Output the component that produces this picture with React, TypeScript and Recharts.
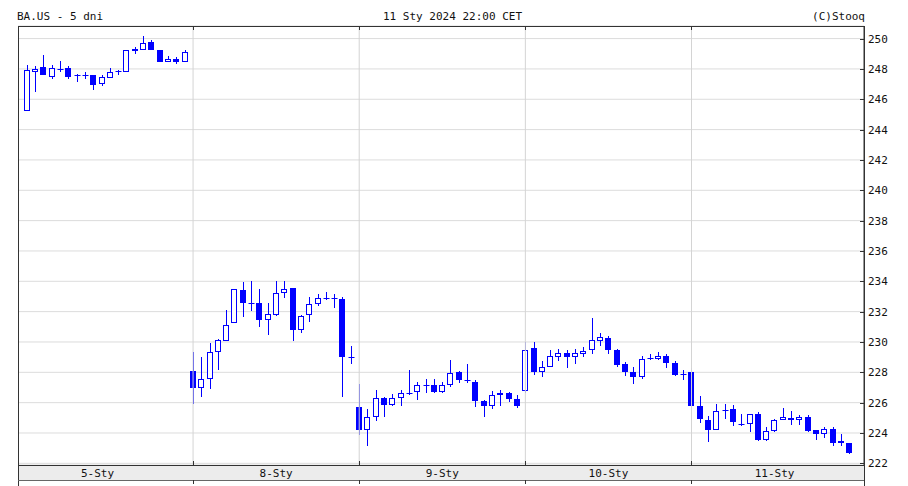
import React from "react";
import { ComposedChart, Bar, XAxis, YAxis, CartesianGrid, ReferenceLine } from "recharts";

const W = 908;
const H = 486;
const BLUE = "#0000ff";
const FONT = "'DejaVu Sans Mono', monospace";
const MARGIN = { top: 26, right: 0, left: 18, bottom: 6 };
const YAXIS_W = 44;
const XAXIS_H = 15;
const PLOT_RIGHT = W - MARGIN.right - YAXIS_W;
const PLOT_BOTTOM = H - MARGIN.bottom - XAXIS_H;
const X_DOMAIN = [-1.07, 100.76];
const Y_DOMAIN = [221.89, 250.83];

// 20-minute candles, [open, high, low, close]
const day5Sty = [
  [245.24, 248.27, 245.24, 247.9], [247.81, 248.21, 246.5, 247.99], [248.1, 248.94, 247.59, 247.63],
  [247.5, 248.27, 247.32, 248.05], [248.0, 248.54, 247.83, 247.94], [248.05, 248.21, 247.32, 247.5],
  [247.61, 247.65, 247.12, 247.58], [247.58, 247.77, 247.32, 247.61], [247.63, 247.63, 246.62, 246.95],
  [247.01, 247.61, 246.88, 247.46], [247.41, 248.05, 247.37, 247.77], [247.83, 247.94, 247.61, 247.85],
  [247.81, 249.27, 247.81, 249.27], [249.31, 249.45, 249.0, 249.16], [249.23, 250.2, 249.23, 249.71],
  [249.76, 249.89, 249.23, 249.23], [249.23, 249.23, 248.43, 248.43], [248.43, 248.83, 248.43, 248.65],
  [248.65, 248.78, 248.3, 248.43], [248.43, 249.23, 248.43, 249.09],
];
const day8Sty = [
  [228.1, 229.34, 225.88, 226.95], [226.99, 229.02, 226.35, 227.53], [227.53, 229.94, 226.88, 229.34],
  [229.34, 230.2, 228.12, 230.15], [230.09, 232.12, 230.09, 231.12], [231.26, 233.47, 231.26, 233.47],
  [233.4, 233.94, 231.63, 232.59], [232.6, 234.0, 232.06, 232.58], [232.55, 233.51, 230.99, 231.48],
  [231.48, 232.55, 230.47, 231.84], [231.8, 234.0, 231.69, 233.25], [233.23, 234.0, 232.93, 233.51],
  [233.55, 233.55, 230.05, 230.77], [230.79, 231.8, 230.58, 231.74], [231.76, 232.97, 231.33, 232.5],
  [232.48, 233.19, 232.4, 232.87], [232.87, 233.29, 232.76, 232.88], [232.88, 233.15, 232.27, 232.86],
  [232.82, 232.97, 226.35, 228.98], [229.0, 229.73, 228.55, 228.98],
];
const day9Sty = [
  [225.7, 227.24, 223.89, 224.21], [224.21, 225.55, 223.17, 225.06], [225.06, 226.86, 224.76, 226.33],
  [226.33, 226.4, 225.06, 225.87], [225.87, 226.57, 225.76, 226.33], [226.33, 226.86, 225.76, 226.61],
  [226.65, 228.16, 226.5, 226.63], [226.67, 227.35, 226.18, 227.14], [227.14, 227.56, 226.61, 227.12],
  [227.14, 227.56, 226.61, 226.71], [226.71, 227.35, 226.61, 227.18], [227.18, 228.79, 227.03, 227.94],
  [227.99, 228.1, 227.31, 227.52], [227.52, 228.58, 227.31, 227.5], [227.39, 227.52, 225.7, 226.12],
  [226.08, 226.18, 225.06, 225.76], [225.76, 226.76, 225.61, 226.5], [226.5, 226.82, 225.76, 226.65],
  [226.61, 226.71, 226.04, 226.23], [226.25, 226.5, 225.65, 225.76],
];
const day10Sty = [
  [226.76, 229.99, 226.65, 229.45], [229.63, 229.99, 227.83, 228.01], [228.01, 228.76, 227.68, 228.33],
  [228.33, 229.45, 228.33, 229.06], [229.02, 229.56, 228.76, 229.3], [229.3, 229.45, 228.27, 228.98],
  [228.98, 229.56, 228.55, 229.28], [229.19, 229.67, 228.98, 229.41], [229.5, 231.61, 229.24, 230.14],
  [230.06, 230.58, 229.73, 230.32], [230.27, 230.42, 229.24, 229.45], [229.5, 229.56, 228.33, 228.48],
  [228.55, 228.7, 227.73, 228.05], [228.05, 228.37, 227.25, 227.68], [227.68, 229.06, 227.55, 228.91],
  [228.95, 229.24, 228.81, 228.96], [228.91, 229.35, 228.81, 229.09], [229.09, 229.24, 228.27, 228.59],
  [228.63, 228.76, 227.79, 227.83], [227.88, 228.16, 227.51, 227.87],
];
const day11Sty = [
  [228.05, 228.27, 225.7, 225.75], [225.79, 226.46, 224.63, 224.95], [224.88, 225.09, 223.41, 224.21],
  [224.21, 225.89, 224.17, 225.43], [225.47, 225.89, 224.95, 225.49], [225.58, 225.85, 224.46, 224.74],
  [224.57, 225.26, 224.48, 224.55], [224.57, 225.26, 224.04, 225.26], [225.26, 225.37, 223.47, 223.54],
  [223.54, 224.38, 223.47, 224.11], [224.11, 224.95, 224.06, 224.88], [224.88, 225.62, 224.84, 225.05],
  [224.99, 225.43, 224.53, 224.84], [224.84, 225.16, 224.53, 225.05], [225.05, 225.2, 224.04, 224.11],
  [224.21, 224.21, 223.52, 223.94], [223.96, 224.38, 223.64, 224.27], [224.27, 224.42, 223.12, 223.37],
  [223.47, 223.94, 223.16, 223.33], [223.33, 223.37, 222.63, 222.67],
];

const days = [day5Sty, day8Sty, day9Sty, day10Sty, day11Sty];
const dayLabels = ["5-Sty", "8-Sty", "9-Sty", "10-Sty", "11-Sty"];
const labelPos = [8.5, 30, 50, 70, 90];
const dayStarts = [20, 40, 60, 80];
const yTicks = [222, 224, 226, 228, 230, 232, 234, 236, 238, 240, 242, 244, 246, 248, 250];

const data = days.flatMap((day, d) =>
  day.map(([o, h, l, c], j) => ({ i: d * 20 + j, o, h, l, c, range: [l, h] }))
);

// same mapping as the x axis, only for the small separator ticks on the frame
const xPix = (v: number) =>
  MARGIN.left + ((v - X_DOMAIN[0]) / (X_DOMAIN[1] - X_DOMAIN[0])) * (PLOT_RIGHT - MARGIN.left);

const Candle = (props: any) => {
  const { x, y, width, height, payload } = props;
  if (!payload || x == null) return null;
  const { o, h, l, c } = payload;
  const top = Math.min(y, y + height);
  const bot = Math.max(y, y + height);
  const ppu = h > l ? (bot - top) / (h - l) : 0;
  const py = (v: number) => bot - (v - l) * ppu;
  const cx = Math.round(x + width / 2) + 0.5;
  const bTop = Math.round(py(Math.max(o, c)));
  const bBot = Math.round(py(Math.min(o, c)));
  const up = c >= o;
  return (
    <g>
      <line x1={cx} x2={cx} y1={Math.round(top)} y2={Math.round(bot)} stroke={BLUE} strokeWidth={1} />
      {bBot - bTop < 1.5 ? (
        <line x1={cx - 3} x2={cx + 3} y1={bTop + 0.5} y2={bTop + 0.5} stroke={BLUE} strokeWidth={1} />
      ) : up ? (
        <rect x={cx - 3} y={bTop + 0.5} width={5} height={bBot - bTop - 1} fill="#fff" stroke={BLUE} strokeWidth={1} />
      ) : (
        <rect x={cx - 3.5} y={bTop} width={6} height={bBot - bTop} fill={BLUE} />
      )}
    </g>
  );
};

const YTick = (props: any) => {
  const { y, payload } = props;
  const yy = Math.round(y) + 0.5;
  return (
    <g>
      <line x1={PLOT_RIGHT - 4} x2={PLOT_RIGHT} y1={yy} y2={yy} stroke="#333" />
      <text x={PLOT_RIGHT + 4} y={y + 4} fontSize={11} fontFamily={FONT} fill="#111">
        {payload.value}
      </text>
    </g>
  );
};

const XTick = (props: any) => {
  const { x, payload } = props;
  const idx = labelPos.indexOf(payload.value);
  return (
    <text x={x} y={PLOT_BOTTOM + 12} fontSize={11} fontFamily={FONT} fill="#111" textAnchor="middle">
      {dayLabels[idx] ?? ""}
    </text>
  );
};

export default function App() {
  return (
    <div style={{ position: "absolute", left: 0, top: 0, width: W, height: H, background: "#fff" }}>
      <svg width={W} height={H} style={{ position: "absolute", left: 0, top: 0 }}>
        <rect x={MARGIN.left} y={PLOT_BOTTOM} width={PLOT_RIGHT - MARGIN.left} height={XAXIS_H} fill="#ececec" />
      </svg>
      <ComposedChart width={W} height={H} data={data} margin={MARGIN}>
        <CartesianGrid vertical={false} stroke="#dcdcdc" strokeWidth={1} />
        {dayStarts.map((d) => (
          <ReferenceLine key={d} x={d} stroke="#d4d4d4" strokeWidth={1} />
        ))}
        <XAxis
          dataKey="i"
          type="number"
          domain={X_DOMAIN}
          allowDataOverflow
          ticks={labelPos}
          interval={0}
          height={XAXIS_H}
          axisLine={false}
          tickLine={false}
          tick={<XTick />}
        />
        <YAxis
          orientation="right"
          width={YAXIS_W}
          domain={Y_DOMAIN}
          allowDataOverflow
          ticks={yTicks}
          interval={0}
          axisLine={{ stroke: "#333" }}
          tickLine={false}
          tick={<YTick />}
        />
        <Bar dataKey="range" barSize={6} shape={<Candle />} isAnimationActive={false} />
      </ComposedChart>
      <svg width={W} height={H} style={{ position: "absolute", left: 0, top: 0, pointerEvents: "none" }}>
        <g fontFamily={FONT} fontSize={11} fill="#111">
          <text x={17} y={20}>BA.US - 5 dni</text>
          <text x={383} y={20}>11 Sty 2024 22:00 CET</text>
          <text x={865} y={20} textAnchor="end">(C)Stooq</text>
        </g>
        <g stroke="#333" strokeWidth={1} shapeRendering="crispEdges">
          <line x1={MARGIN.left} x2={PLOT_RIGHT} y1={MARGIN.top} y2={MARGIN.top} />
          <line x1={MARGIN.left} x2={MARGIN.left} y1={MARGIN.top} y2={H} />
          <line x1={PLOT_RIGHT} x2={PLOT_RIGHT} y1={MARGIN.top} y2={H} />
          <line x1={MARGIN.left} x2={PLOT_RIGHT} y1={PLOT_BOTTOM} y2={PLOT_BOTTOM} />
          <line x1={MARGIN.left} x2={PLOT_RIGHT} y1={PLOT_BOTTOM + XAXIS_H} y2={PLOT_BOTTOM + XAXIS_H} stroke="#666" />
          {dayStarts.map((d) => (
            <g key={d}>
              <line x1={xPix(d)} x2={xPix(d)} y1={MARGIN.top} y2={MARGIN.top + 4} />
              <line x1={xPix(d)} x2={xPix(d)} y1={PLOT_BOTTOM - 4} y2={PLOT_BOTTOM} />
              <line x1={xPix(d)} x2={xPix(d)} y1={PLOT_BOTTOM + XAXIS_H} y2={PLOT_BOTTOM + XAXIS_H + 4} />
            </g>
          ))}
        </g>
      </svg>
    </div>
  );
}
